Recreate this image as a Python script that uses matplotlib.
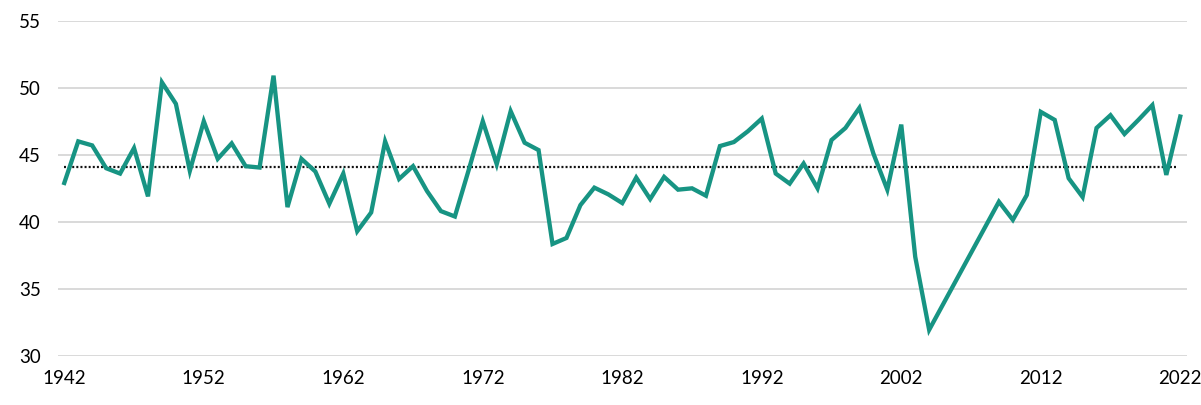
import numpy as np
import matplotlib.pyplot as plt


# values (2005-2008 not plotted, line joins 2004 to 2009)
years = [
    1942, 1943, 1944, 1945, 1946, 1947, 1948, 1949, 1950, 1951,
    1952, 1953, 1954, 1955, 1956, 1957, 1958, 1959, 1960, 1961,
    1962, 1963, 1964, 1965, 1966, 1967, 1968, 1969, 1970, 1971,
    1972, 1973, 1974, 1975, 1976, 1977, 1978, 1979, 1980, 1981,
    1982, 1983, 1984, 1985, 1986, 1987, 1988, 1989, 1990, 1991,
    1992, 1993, 1994, 1995, 1996, 1997, 1998, 1999, 2000, 2001,
    2002, 2003, 2004, 2009, 2010, 2011, 2012, 2013, 2014, 2015,
    2016, 2017, 2018, 2019, 2020, 2021, 2022,
]
values = [
    42.9, 46.0, 45.7, 44.0, 43.6, 45.5, 41.9, 50.4, 48.8, 43.8,
    47.5, 44.7, 45.85, 44.15, 44.05, 50.9, 41.1, 44.7, 43.75, 41.35,
    43.6, 39.3, 40.7, 46.0, 43.2, 44.15, 42.3, 40.8, 40.4, 43.9,
    47.5, 44.3, 48.25, 45.9, 45.35, 38.35, 38.8, 41.25, 42.55, 42.05,
    41.4, 43.3, 41.7, 43.35, 42.4, 42.5, 41.95, 45.65, 45.95, 46.75,
    47.7, 43.6, 42.85, 44.35, 42.5, 46.1, 47.0, 48.5, 45.1, 42.4,
    47.25, 37.4, 31.95, 41.5, 40.15, 42.0, 48.2, 47.6, 43.25, 41.85,
    47.0, 47.95, 46.55, 47.6, 48.7, 43.5, 47.85,
]
mean_value = 44.1
tick_years = [1942, 1952, 1962, 1972, 1982, 1992, 2002, 2012, 2022]
y_ticks = [30, 35, 40, 45, 50, 55]

plt.rcParams["font.family"] = ["Lato", "DejaVu Sans"]

fig = plt.figure(figsize=(12.01, 4.05), dpi=100)
ax = fig.add_axes([0.0483, 0.121, 0.9400, 0.828])

ax.plot(years, values, color="#179483", linewidth=3.1, solid_joinstyle="miter", zorder=3)
ax.plot([years[0], years[-1] - 0.3], [mean_value, mean_value],
        color="#111111", linestyle=(0, (0.9, 0.95)), linewidth=1.6, zorder=2)

ax.set_xlim(1941.55, 2022.48)
ax.set_ylim(30, 55)
ax.set_xticks(tick_years)
ax.set_yticks(y_ticks)
ax.grid(True, axis="y", color="#d9d9d9", linewidth=1.4)
ax.set_axisbelow(True)
for spine in ax.spines.values():
    spine.set_visible(False)
ax.tick_params(axis="both", length=0, labelsize=13.5, colors="#000000")
ax.tick_params(axis="y", pad=12.5)
ax.tick_params(axis="x", pad=10)

fig.savefig("out.png", dpi=100)
